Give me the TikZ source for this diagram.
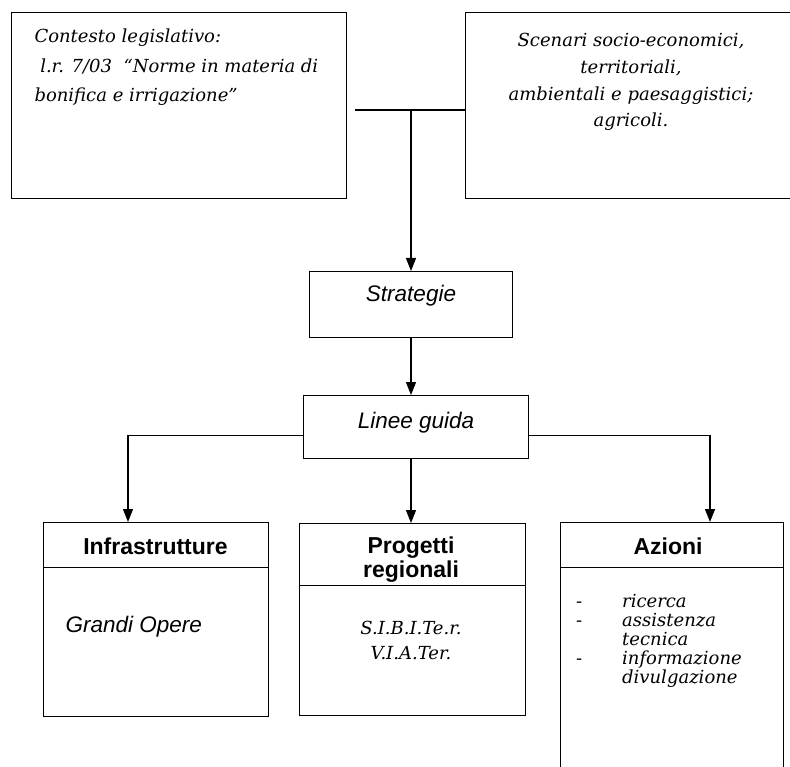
\documentclass[tikz,border=0pt]{standalone}
\usepackage{fontspec}
\setmainfont{DejaVu Serif}
\setsansfont{Liberation Sans}
\usetikzlibrary{arrows.meta}
\begin{document}
\begin{tikzpicture}[x=1pt,y=-1pt,
  box/.style={draw,line width=1.4pt,rectangle,inner sep=0pt,anchor=north west},
  ser/.style={font=\fontsize{18}{28}\selectfont\itshape},
  sans/.style={font=\fontsize{22.5}{25}\selectfont\sffamily\itshape},
  head/.style={font=\fontsize{23}{25}\selectfont\sffamily\bfseries},
  conn/.style={line width=1.4pt},
  arr/.style={line width=1.4pt,-{Triangle[length=13pt,width=10pt]}}]
\useasboundingbox (0,0) rectangle (790,767);
\clip (0,0) rectangle (790,767);
% top boxes
\node[box,minimum width=335pt,minimum height=186pt] (ctx) at (11,12) {};
\node[box,minimum width=350pt,minimum height=186pt] (scen) at (465,12) {};
\node[ser,anchor=base west,align=left,font=\fontsize{18}{29.5}\selectfont\itshape] (ctxt) at (31,102)
  {Contesto legislativo:\\\ l.r. 7/03 \ “Norme in materia di\\bonifica e irrigazione”};
\node[ser,anchor=base,align=center,font=\fontsize{18}{26.7}\selectfont\itshape] (scent) at (631,127)
  {Scenari socio-economici,\\territoriali,\\ambientali e paesaggistici;\\agricoli.};
% middle boxes
\node[box,minimum width=203pt,minimum height=66pt] (strat) at (309,271) {};
\node[sans] (stratt) at (411,296) {Strategie};
\node[box,minimum width=225pt,minimum height=63pt] (linee) at (303,395) {};
\node[sans] (lineet) at (416,423) {Linee guida};
% bottom boxes
\node[box,minimum width=225pt,minimum height=45pt,head] (infH) at (43,522) {};
\node[head] (infHt) at (155.5,546) {Infrastrutture};
\node[box,minimum width=225pt,minimum height=149pt] (infB) at (43,567) {};
\node[sans,anchor=west] (infBt) at (62,627) {Grandi Opere};
\node[box,minimum width=226pt,minimum height=62pt] (proH) at (299,523) {};
\node[head,align=center,font=\fontsize{23}{24}\selectfont\sffamily\bfseries] (proHt) at (411,560) {Progetti\\regionali};
\node[box,minimum width=226pt,minimum height=130pt] (proB) at (299,585) {};
\node[ser,align=center,font=\fontsize{18}{25}\selectfont\itshape] (proBt) at (411,640) {S.I.B.I.Te.r.\\V.I.A.Ter.};
\node[box,minimum width=223pt,minimum height=45pt] (azH) at (560,522) {};
\node[head] (azHt) at (668,546) {Azioni};
\node[box,minimum width=223pt,minimum height=240pt] (azB) at (560,567) {};
\node[anchor=base west,inner sep=0pt,font=\fontsize{18}{19}\selectfont] (azBt) at (576,607)
  {\renewcommand\arraystretch{1}\begin{tabular}[t]{@{}p{46pt}@{}l@{}}
   - & \itshape ricerca\\
   - & \itshape assistenza\\
     & \itshape tecnica\\
   - & \itshape informazione\\
     & \itshape divulgazione
   \end{tabular}};
% connectors
\coordinate (js) at (355,110);
\coordinate (j) at (411,110);
\coordinate (ia) at (128,522);
\coordinate (aa) at (710,522);
\draw[conn] (js) -- (scen.west |- j);
\draw[arr] (j) -- (j |- strat.north);
\draw[arr] (strat.south -| j) -- (j |- linee.north);
\draw[arr] ([yshift=-8.5pt]linee.west) -| (ia);
\draw[arr] ([yshift=-8.5pt]linee.east) -| (aa);
\draw[arr] (linee.south -| j) -- (j |- proH.north);
\end{tikzpicture}
\end{document}
